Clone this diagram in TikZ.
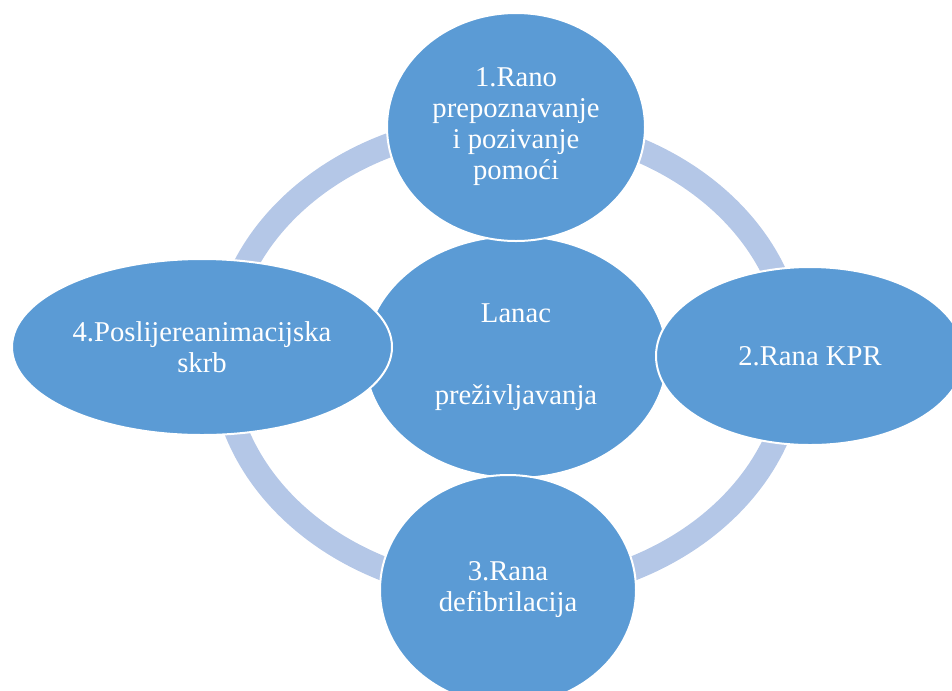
\documentclass[tikz,border=0pt]{standalone}
\usepackage{fontspec}
\setmainfont{Liberation Serif}
\usetikzlibrary{shapes.geometric}
\definecolor{stepblue}{HTML}{5B9BD5}
\definecolor{ringblue}{HTML}{B4C7E7}

\begin{document}
\begin{tikzpicture}[x=0.75pt,y=-0.75pt,
	link/.style={draw=ringblue,line width=18pt},
	bubble/.style={ellipse,fill=stepblue,draw=white,line width=1.5pt,inner sep=0pt,
		text=white,align=center,font=\fontsize{21.5}{23.25}\selectfont}]
	\useasboundingbox (0,0) rectangle (952,690);
	\clip (0,0) rectangle (952,690);
	% ring behind the steps
	\draw[link] (508,358) ellipse [x radius=214.5pt, y radius=175.5pt];
	\begin{scope}[every node/.style={bubble}]
	\node[minimum width=226.5pt,minimum height=181.5pt] (lanac) at (516,357) {Lanac\\[38pt]preživljavanja};
	\node[minimum width=193.5pt,minimum height=171pt] (rano) at (516,127) {1.Rano\\prepoznavanje\\i pozivanje\\pomoći};
	\node[minimum width=231pt,minimum height=133.5pt] (kpr) at (810,356) {2.Rana KPR};
	\node[minimum width=192pt,minimum height=172.5pt] (defib) at (508,590) {3.Rana\\defibrilacija};
	\node[minimum width=285pt,minimum height=132pt] (skrb) at (202,347) {4.Poslijereanimacijska\\skrb};
	\end{scope}
\end{tikzpicture}
\end{document}
